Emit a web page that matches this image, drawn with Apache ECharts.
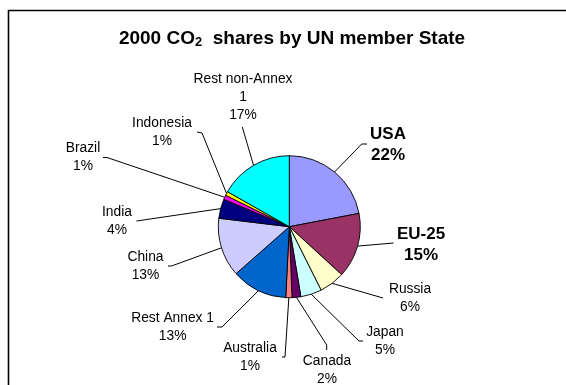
<!DOCTYPE html>
<html>
<head>
<meta charset="utf-8">
<script src="https://cdn.jsdelivr.net/npm/echarts@6/dist/echarts.min.js"></script>
<style>
html,body{margin:0;padding:0;background:#fff;}
#chart{width:566px;height:385px;}
</style>
</head>
<body>
<div id="chart"></div>
<script>
// ---- data ----
var categories = ['USA','EU-25','Russia','Japan','Canada','Australia','Rest Annex 1','China','India','Brazil','Indonesia','Rest non-Annex 1'];
var shares = [22.0, 14.8, 5.8, 4.8, 2.0, 1.4, 12.7, 13.4, 4.4, 1.0, 0.9, 16.8];
var colors = ['#9999FF','#993366','#FFFFCC','#CCFFFF','#660066','#FF8080','#0066CC','#CCCCFF','#000080','#FF00FF','#FFFF00','#00FFFF'];
var boldNames = ['USA','EU-25'];

// ---- label layout (label centre, leader elbow, leader end) ----
var labelPos = {
  'USA':              {c:[388,144.5], e:[361.7,144], t:[367,144]},
  'EU-25':            {c:[421,244.5], e:[393.5,243], t:[393.5,243]},
  'Russia':           {c:[410,298],   e:[383,298],   t:[383,298]},
  'Japan':            {c:[385,341.5], e:[359,341],   t:[363,341]},
  'Canada':           {c:[327,370],   e:[326.7,345], t:[326.7,350]},
  'Australia':        {c:[250,357],   e:[285,357],   t:[282,357]},
  'Rest Annex 1':     {c:[172.6,327], e:[222,327],   t:[217,327]},
  'China':            {c:[145.5,266], e:[171.5,266], t:[168,266]},
  'India':            {c:[117,221],   e:[136.5,221], t:[136.5,221]},
  'Brazil':           {c:[83,157],    e:[107,157.5], t:[103,157.5]},
  'Indonesia':        {c:[162,132],   e:[202,133],   t:[197,132]},
  'Rest non-Annex 1': {c:[243,97],    e:[242.3,127], t:[242.3,127]}
};

var FONT = "'Liberation Sans', Arial, sans-serif";

var pieData = categories.map(function(name, i){
  var bold = boldNames.indexOf(name) >= 0;
  return {
    name: name,
    value: shares[i],
    itemStyle: {color: colors[i]},
    label: bold ? {fontSize: 17, fontWeight: 'bold', lineHeight: 21} : {}
  };
});

var chart = echarts.init(document.getElementById('chart'));
chart.setOption({
  backgroundColor: '#fff',
  animation: false,
  title: {
    text: '2000 CO{sub|2}  shares by UN member State',
    left: 287,
    textAlign: 'center',
    top: 24,
    textStyle: {
      fontFamily: FONT, fontSize: 19, fontWeight: 'bold', color: '#000',
      rich: {
        sub: {fontFamily: FONT, fontSize: 13, fontWeight: 'bold', color: '#000', padding: [7,0,0,0]}
      }
    }
  },
  graphic: [{
    type: 'rect',
    shape: {x: 8.5, y: 10.5, width: 700, height: 500},
    style: {fill: 'none', stroke: '#000', lineWidth: 1.6},
    silent: true
  }],
  series: [{
    type: 'pie',
    center: [289.3, 226.7],
    radius: 71,
    startAngle: 90,
    clockwise: true,
    data: pieData,
    itemStyle: {borderColor: '#000', borderWidth: 0.9},
    emphasis: {disabled: true},
    label: {
      show: true,
      position: 'outside',
      fontFamily: FONT,
      fontSize: 13.8,
      lineHeight: 18,
      color: '#000',
      align: 'center',
      formatter: function(p){
        var nm = p.name.replace('non-Annex 1', 'non-Annex\n1');
        return nm + '\n' + Math.round(p.percent) + '%';
      }
    },
    labelLine: {show: true, length: 10, length2: 10, lineStyle: {color: '#000', width: 1}},
    labelLayout: function(params){
      var name = categories[params.dataIndex];
      var lp = labelPos[name];
      var start = params.labelLinePoints ? params.labelLinePoints[0] : lp.e;
      return {
        x: lp.c[0],
        y: lp.c[1],
        align: 'center',
        verticalAlign: 'middle',
        labelLinePoints: [start, lp.e, lp.t]
      };
    }
  }]
});
</script>
</body>
</html>
